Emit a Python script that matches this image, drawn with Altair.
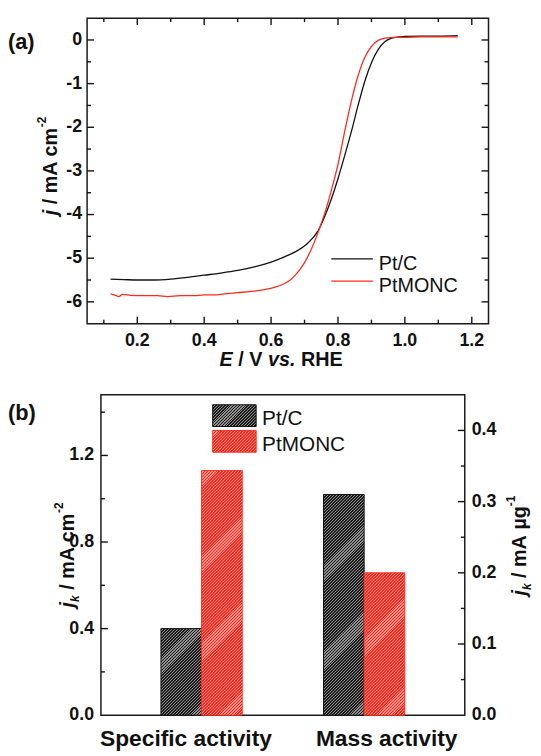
import math
import altair as alt
import pandas as pd

# ---------------- data ----------------
E_PTC = [0.120, 0.160, 0.200, 0.250, 0.300, 0.350, 0.400, 0.450, 0.500, 0.550,
         0.600, 0.640, 0.680, 0.710, 0.740, 0.760, 0.780, 0.800, 0.820, 0.840,
         0.860, 0.880, 0.900, 0.920, 0.940, 0.960, 0.980, 1.000, 1.050, 1.100, 1.158]
J_PTC = [-5.48, -5.49, -5.50, -5.50, -5.48, -5.44, -5.39, -5.34, -5.28, -5.20,
         -5.09, -4.97, -4.82, -4.65, -4.38, -4.05, -3.65, -3.18, -2.65, -2.10,
         -1.50, -0.95, -0.52, -0.22, -0.04, 0.04, 0.07, 0.08, 0.09, 0.09, 0.10]

E_MONC = [0.120, 0.135, 0.145, 0.155, 0.180, 0.220, 0.260, 0.290, 0.330, 0.370,
          0.400, 0.430, 0.460, 0.500, 0.540, 0.580, 0.610, 0.640, 0.660, 0.680,
          0.700, 0.720, 0.740, 0.760, 0.780, 0.800, 0.820, 0.840, 0.860, 0.880,
          0.900, 0.920, 0.940, 0.970, 1.000, 1.050, 1.100, 1.158]
J_MONC = [-5.82, -5.85, -5.88, -5.83, -5.85, -5.86, -5.86, -5.88, -5.86, -5.86,
          -5.84, -5.84, -5.82, -5.79, -5.76, -5.72, -5.67, -5.58, -5.48, -5.32,
          -5.10, -4.80, -4.42, -3.98, -3.45, -2.85, -2.10, -1.40, -0.82, -0.40,
          -0.15, -0.01, 0.04, 0.06, 0.06, 0.07, 0.07, 0.07]

SERIES = ["Pt/C", "PtMONC"]
CATS = ["Specific activity", "Mass activity"]
ACT_PTC = [0.40, 0.31]    # specific (mA cm-2), mass (mA ug-1)
ACT_MONC = [1.13, 0.20]

X_TICKS_A = [0.2, 0.4, 0.6, 0.8, 1.0, 1.2]
X_MINOR_A = [0.1, 0.3, 0.5, 0.7, 0.9, 1.1]
Y_TICKS_A = [0, -1, -2, -3, -4, -5, -6]
Y_MINOR_A = [-0.5, -1.5, -2.5, -3.5, -4.5, -5.5]
Y_TICKS_BL = [0.0, 0.4, 0.8, 1.2]
Y_MINOR_BL = [0.2, 0.6, 1.0, 1.4]
Y_TICKS_BR = [0.0, 0.1, 0.2, 0.3, 0.4]
Y_MINOR_BR = [0.05, 0.15, 0.25, 0.35]

# ---------------- style / layout ----------------
FONT = "Liberation Sans"
INK = "#111111"
RED = "#ff2a1f"
TICK = "#111111"
HATCH = [("#1c1c1c", "#8e8e8e"), ("#ff2a1f", "#ff8f86")]
EDGE = [INK, RED]
TFS = 20          # axis-title font size
LFS = 18          # tick-label font size
MAJ, MIN = 7, 4
TW = 1.4          # tick thickness

# one drawing area; origin = top-left of panel (a)
WA, HA = 406, 309                       # panel (a) plot box
BX0, BX1, BY0, BY1 = 14, 382, 381, 705  # panel (b) plot box
HTOT = BY1

W = {' ': .278, '/': .278, '.': .278, '-': .333, 'A': .722, 'C': .722, 'E': .667,
     'H': .722, 'R': .722, 'V': .667, 'M': .833, 'a': .556, 'c': .556, 'g': .611,
     'j': .278, 'k': .556, 'm': .889, 's': .556, 'v': .556, 'y': .556, 'µ': .576,
     '1': .556, '2': .556}

one = pd.DataFrame({"k": [0]})


def rich(segs, x0, y0, vertical=False):
    """Title built from segments (text, scale, italic, shift); spaces only advance."""
    out = []
    pos = 0.0
    for txt, sc, italic, shift in segs:
        f = TFS * sc
        lead = len(txt) - len(txt.lstrip(" "))
        core = txt.strip(" ")
        pos += lead * W[' '] * f
        if core:
            if vertical:
                x, y, ang = x0 - shift * TFS, y0 - pos, 270
            else:
                x, y, ang = x0 + pos, y0 - shift * TFS, 0
            out.append(alt.Chart(one).mark_text(
                text=core, font=FONT, fontSize=f, fontWeight="bold",
                fontStyle="italic" if italic else "normal", align="left",
                baseline="alphabetic", angle=ang, color=INK
            ).encode(x=alt.value(x), y=alt.value(y)))
        pos += sum(W[c] for c in txt.lstrip(" ")) * f
    return out


def hatch(w, h, c1, c2, phase=0.0, period=3.0, frac=0.6):
    """Diagonal '/' stripes inside a w x h box (objectBoundingBox gradient)."""
    L = w + h
    k = L / (w * w + h * h)
    color_at = lambda s: c1 if ((s + phase) % period) / period < frac else c2
    bounds = []
    j = math.floor(-phase / period) - 1
    while True:
        for f in (0.0, frac):
            s = (j + f) * period - phase
            if 0 < s < L:
                bounds.append(s)
        if j * period - phase > L:
            break
        j += 1
    bounds.sort()
    stops = [{"offset": 0, "color": color_at(0.0)}]
    for s in bounds:
        stops.append({"offset": round(s / L, 5), "color": color_at(s - 1e-6)})
        stops.append({"offset": round(s / L, 5), "color": color_at(s + 1e-6)})
    stops.append({"offset": 1, "color": color_at(L - 1e-6)})
    return {"gradient": "linear", "x1": 0, "y1": 0, "x2": k * w, "y2": k * h, "stops": stops}


def label(txt, x, y, size=22):
    return alt.Chart(one).mark_text(text=txt, font=FONT, fontSize=size, fontWeight="bold",
                                    align="left", baseline="alphabetic", color=INK
                                    ).encode(x=alt.value(x), y=alt.value(y))


def xticks(vals, scale, y0, y1):
    d = pd.DataFrame({"t": vals, "s": ["|"] * len(vals)})
    return alt.Chart(d).mark_rect(color=TICK, width=TW).encode(
        x=alt.X("t:Q", scale=scale, axis=None), y=alt.value(min(y0, y1)), y2=alt.value(max(y0, y1)))


def yticks(vals, scale, x0, x1):
    d = pd.DataFrame({"t": vals, "s": ["-"] * len(vals)})
    return alt.Chart(d).mark_rect(color=TICK, height=TW).encode(
        y=alt.Y("t:Q", scale=scale, axis=None), x=alt.value(min(x0, x1)), x2=alt.value(max(x0, x1)))


def xlabels(vals, fmt, scale, y):
    d = pd.DataFrame({"t": vals, "s": [fmt(v) for v in vals]})
    return alt.Chart(d).mark_text(font=FONT, fontSize=LFS, fontWeight="bold", color=INK,
                                  align="center", baseline="alphabetic").encode(
        x=alt.X("t:Q", scale=scale, axis=None), y=alt.value(y), text="s:N")


def ylabels(vals, fmt, scale, x, align):
    d = pd.DataFrame({"t": vals, "s": [fmt(v) for v in vals]})
    return alt.Chart(d).mark_text(font=FONT, fontSize=LFS, fontWeight="bold", color=INK,
                                  align=align, baseline="middle").encode(
        y=alt.Y("t:Q", scale=scale, axis=None), x=alt.value(x), text="s:N")


def frame(x0, x1, y0, y1):
    return alt.Chart(one).mark_rect(fill="transparent", stroke="#1a1a1a", strokeWidth=1.5).encode(
        x=alt.value(x0), x2=alt.value(x1), y=alt.value(y0), y2=alt.value(y1))


f1 = lambda v: "%.1f" % v
fi = lambda v: "%d" % v

# ---------------- panel (a) ----------------
sx_a = alt.Scale(domain=[0.05, 1.25], range=[0, WA], nice=False, zero=False)
sy_a = alt.Scale(domain=[-6.5, 0.5], range=[HA, 0], nice=False, zero=False)

df_a = pd.DataFrame({
    "E": E_PTC + E_MONC,
    "j": J_PTC + J_MONC,
    "s": [SERIES[0]] * len(E_PTC) + [SERIES[1]] * len(E_MONC),
})

lines = alt.Chart(df_a).mark_line(strokeWidth=1.3, interpolate="monotone").encode(
    x=alt.X("E:Q", scale=sx_a, axis=None),
    y=alt.Y("j:Q", scale=sy_a, axis=None),
    color=alt.Color("s:N", scale=alt.Scale(domain=SERIES, range=[INK, RED]), legend=None),
)

layers_a = [
    lines,
    frame(0, WA, 0, HA),
    xticks(X_TICKS_A, sx_a, HA, HA - MAJ), xticks(X_MINOR_A, sx_a, HA, HA - MIN),
    xticks(X_TICKS_A, sx_a, 0, MAJ), xticks(X_MINOR_A, sx_a, 0, MIN),
    yticks(Y_TICKS_A, sy_a, 0, MAJ), yticks(Y_MINOR_A, sy_a, 0, MIN),
    yticks(Y_TICKS_A, sy_a, WA, WA - MAJ), yticks(Y_MINOR_A, sy_a, WA, WA - MIN),
    xlabels(X_TICKS_A, f1, sx_a, HA + 23),
    ylabels(Y_TICKS_A, fi, sy_a, -5, "right"),
    label("(a)", -80, 31.4),
]
for i, (s, c) in enumerate(zip(SERIES, [INK, RED])):
    layers_a.append(alt.Chart(one).mark_rule(color=c, strokeWidth=1.3).encode(
        x=alt.value(247), x2=alt.value(289), y=alt.value(243.5 + 22.5 * i)))
    layers_a.append(alt.Chart(one).mark_text(text=s, font=FONT, fontSize=20, align="left",
                                             baseline="alphabetic", color=INK).encode(
        x=alt.value(295), y=alt.value(254.3 + 22.7 * i)))
layers_a += rich([("E", 1, True, 0), (" / V ", 1, False, 0), ("vs.", 1, True, 0), (" RHE", 1, False, 0)],
                 134, 352)
layers_a += rich([("j", 1, True, 0), (" / mA cm", 1, False, 0), ("-2", 0.6, False, 0.55)],
                 -30.7, 199.3, vertical=True)

# ---------------- panel (b) ----------------
YMAX = [1.48, 0.45]
PO_X, PO_OFF = 0.119, 1.0
HB = BY1 - BY0
step = (BX1 - BX0) / (2 + 2 * PO_X)
bw = step / (2 + 2 * PO_OFF)
sx_b = alt.Scale(domain=CATS, range=[BX0, BX1], paddingInner=0, paddingOuter=PO_X)
so_b = alt.Scale(domain=SERIES, range=[0, step], paddingInner=0, paddingOuter=PO_OFF)
sy_bl = alt.Scale(domain=[0, YMAX[0]], range=[BY1, BY0], nice=False, zero=True)
sy_br = alt.Scale(domain=[0, YMAX[1]], range=[BY1, BY0], nice=False, zero=True)

PIECE = 26   # bars are filled in short slices so the fine hatch renders cleanly
OVL = 1.5    # px overlap between slices
layers_b = [frame(BX0, BX1, BY0, BY1)]
for ci, cat in enumerate(CATS):
    ys = sy_bl if ci == 0 else sy_br
    for si, vals in enumerate([ACT_PTC, ACT_MONC]):
        v = vals[ci]
        h = v / YMAX[ci] * HB
        m = max(1, math.ceil(h / PIECE))
        upx = YMAX[ci] / HB
        for p in range(m - 1, -1, -1):
            lo = v * p / m
            hi = v * (p + 1) / m
            ext = OVL if p < m - 1 else 0.0
            hp = h / m + ext
            dy = h - h * (p + 1) / m - ext
            d = pd.DataFrame({"cat": [cat], "s": [SERIES[si]], "lo": [lo], "hi": [hi + ext * upx]})
            layers_b.append(alt.Chart(d).mark_bar(fill=hatch(bw, hp, *HATCH[si], phase=dy % 3.0)).encode(
                x=alt.X("cat:N", scale=sx_b, axis=None),
                xOffset=alt.XOffset("s:N", scale=so_b),
                y=alt.Y("lo:Q", scale=ys, axis=None),
                y2="hi:Q",
            ))
        d = pd.DataFrame({"cat": [cat], "s": [SERIES[si]], "v": [v]})
        layers_b.append(alt.Chart(d).mark_bar(fill="transparent", stroke=EDGE[si], strokeWidth=1).encode(
            x=alt.X("cat:N", scale=sx_b, axis=None),
            xOffset=alt.XOffset("s:N", scale=so_b),
            y=alt.Y("v:Q", scale=ys, axis=None),
        ))

layers_b += [
    yticks(Y_TICKS_BL[1:], sy_bl, BX0, BX0 + MAJ), yticks(Y_MINOR_BL, sy_bl, BX0, BX0 + MIN),
    yticks(Y_TICKS_BR[1:], sy_br, BX1, BX1 - MAJ), yticks(Y_MINOR_BR, sy_br, BX1, BX1 - MIN),
    ylabels(Y_TICKS_BL, f1, sy_bl, BX0 - 7, "right"),
    ylabels(Y_TICKS_BR, f1, sy_br, BX1 + 7, "left"),
    label("(b)", -80, BY0 + 25.4),
]

CAT_DX = [-6, 13]
for ci, cat in enumerate(CATS):
    d = pd.DataFrame({"cat": [cat]})
    layers_b.append(alt.Chart(d).mark_text(font=FONT, fontSize=23, fontWeight="bold", color=INK,
                                           baseline="alphabetic", align="center", dx=CAT_DX[ci]).encode(
        x=alt.X("cat:N", scale=sx_b, axis=None), y=alt.value(BY1 + 31), text="cat:N"))

for i, s in enumerate(SERIES):
    y0 = BY0 + 10 + 26 * i
    layers_b.append(alt.Chart(one).mark_rect(fill=hatch(44, 22, *HATCH[i]), stroke=EDGE[i],
                                             strokeWidth=1).encode(
        x=alt.value(BX0 + 113), x2=alt.value(BX0 + 157), y=alt.value(y0), y2=alt.value(y0 + 22)))
    layers_b.append(alt.Chart(one).mark_text(text=s, font=FONT, fontSize=21, align="left",
                                             baseline="alphabetic", color=INK).encode(
        x=alt.value(BX0 + 163), y=alt.value(BY0 + 30 + 26.7 * i)))

layers_b += rich([("j", 1, True, 0), ("k", 0.6, True, -0.25), (" / mA cm", 1, False, 0),
                  ("-2", 0.6, False, 0.55)], BX0 - 27, BY0 + 215, vertical=True)
layers_b += rich([("j", 1, True, 0), ("k", 0.6, True, -0.25), (" / mA ", 1, False, 0),
                  ("µg", 1, False, 0), ("-1", 0.6, False, 0.55)], BX0 + 430, BY0 + 203, vertical=True)

chart = alt.layer(*layers_a, *layers_b).resolve_scale(
    x="independent", y="independent", xOffset="independent", color="independent"
).properties(
    width=WA, height=HTOT,
    padding={"left": 0, "top": 5, "right": 0, "bottom": 0}
).configure_view(stroke=None)

chart.save("out.html", embed_options={"renderer": "svg", "actions": False})
